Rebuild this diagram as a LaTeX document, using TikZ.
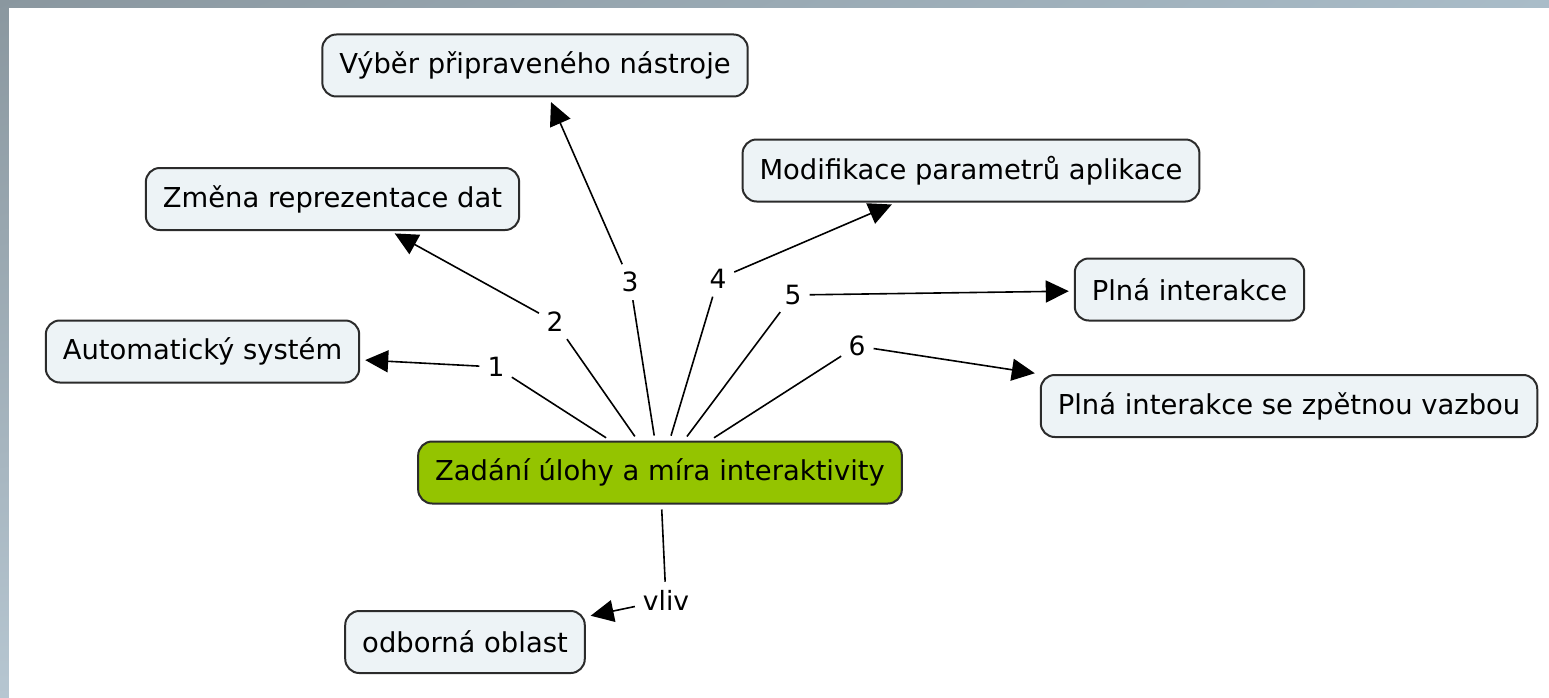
\documentclass[tikz,border=0pt]{standalone}
\usepackage{fontspec}
\setmainfont{DejaVu Sans}
\usepackage{tikz}
\usetikzlibrary{arrows.meta, positioning, shadings}

\definecolor{boxfill}{HTML}{EDF3F6}
\definecolor{boxline}{HTML}{2B2B2B}
\definecolor{topicgreen}{HTML}{94C400}
\definecolor{frameUL}{HTML}{8A979F}
\definecolor{frameUR}{HTML}{A9BCC8}
\definecolor{frameLL}{HTML}{B6C6D1}
\definecolor{frameLR}{HTML}{C0CFD8}

\begin{document}
\begin{tikzpicture}[x=1pt,y=-1pt,>={Triangle[length=23pt,width=22pt]},
        concept/.style={draw=boxline,line width=2pt,fill=boxfill,rounded corners=14pt,
            minimum height=62pt,inner xsep=17pt,font=\fontsize{27.4}{32}\selectfont},
        topic/.style={concept,fill=topicgreen},
        linkword/.style={fill=white,inner sep=3pt,font=\fontsize{26.5}{30}\selectfont},
        link/.style={line width=1.6pt,draw=black,shorten <=5pt,shorten >=5pt}]

    % frame
    \shade[upper left=frameUL,upper right=frameUR,lower left=frameLL,lower right=frameLR]
        (0,0) rectangle (1549,698);
    \fill[white] (9,8) rectangle (1549,698);
    \useasboundingbox (0,0) rectangle (1549,698);

    \node[topic]   (topic) at (660,472.5) {Zadání úlohy a míra interaktivity};

    \node[concept] (auto)  at (202.5,351.5) {Automatický systém};
    \node[concept] (zmena) at (332.5,199)   {Změna reprezentace dat};
    \node[concept] (vyber) at (535,65.5)    {Výběr připraveného nástroje};
    \node[concept] (modif) at (971,170.5)   {Modifikace parametrů aplikace};
    \node[concept] (plna)  at (1189.5,289.5) {Plná interakce};
    \node[concept] (zpet)  at (1289,406)    {Plná interakce se zpětnou vazbou};
    \node[concept] (odb)   at (465,642)     {odborná oblast};

    \node[linkword] (n1)   at (496,367) {1};
    \node[linkword] (n2)   at (555,322) {2};
    \node[linkword] (n3)   at (630,282) {3};
    \node[linkword] (n4)   at (718,279) {4};
    \node[linkword] (n5)   at (793,295) {5};
    \node[linkword] (n6)   at (857,346) {6};
    \node[linkword] (vliv) at (666,600) {vliv};

    \path[link] (topic) edge (n1) edge (n2) edge (n3) edge (n4) edge (n5) edge (n6) edge (vliv)
        (n1)   edge[->] (auto)
        (n2)   edge[->] (zmena)
        (n3)   edge[->] (vyber)
        (n4)   edge[->] (modif)
        (n5)   edge[->] (plna)
        (n6)   edge[->] (zpet.north west)
        (vliv) edge[->] (odb);
\end{tikzpicture}
\end{document}
